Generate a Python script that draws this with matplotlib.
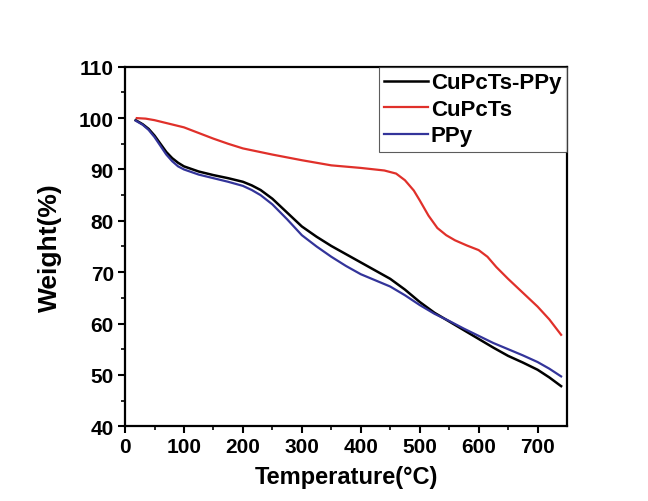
import numpy as np
import matplotlib.pyplot as plt

plt.rcParams['font.family'] = ['Liberation Sans', 'DejaVu Sans']
plt.rcParams['font.weight'] = 'bold'

# DATA
temp_cp = [18, 30, 40, 50, 60, 70, 80, 90, 100, 125, 150, 175, 200, 215, 230, 250, 275, 300,
           325, 350, 375, 400, 425, 450, 475, 500, 525, 550, 575, 600, 625, 650, 675, 700, 720, 740]
w_cupcts_ppy = [99.6, 98.8, 97.9, 96.6, 95.0, 93.4, 92.2, 91.3, 90.6, 89.6, 88.9, 88.3, 87.6, 86.9,
                86.0, 84.3, 81.6, 78.9, 76.9, 75.1, 73.5, 71.9, 70.3, 68.7, 66.6, 64.2, 62.1, 60.4,
                58.7, 57.0, 55.3, 53.7, 52.4, 51.0, 49.5, 47.8]
w_ppy = [99.5, 98.7, 97.7, 96.3, 94.6, 92.9, 91.6, 90.6, 90.0, 89.0, 88.3, 87.6, 86.8, 86.0,
         85.0, 83.2, 80.3, 77.2, 75.0, 73.0, 71.2, 69.6, 68.4, 67.2, 65.5, 63.6, 61.9, 60.5,
         59.0, 57.6, 56.2, 55.0, 53.8, 52.5, 51.2, 49.7]
temp_c = [20, 35, 50, 75, 100, 125, 150, 175, 200, 250, 300, 350, 400, 440, 460, 475, 490, 500,
          515, 530, 545, 560, 580, 600, 615, 630, 650, 675, 700, 720, 740]
w_cupcts = [100.0, 99.9, 99.6, 98.9, 98.2, 97.1, 96.0, 95.0, 94.1, 92.9, 91.8, 90.8, 90.3, 89.8,
            89.2, 87.9, 85.9, 84.0, 81.0, 78.6, 77.2, 76.2, 75.2, 74.3, 73.0, 71.0, 68.7, 66.0,
            63.3, 60.8, 57.8]

fig = plt.figure(figsize=(6.48, 5.02), dpi=100)
ax = fig.add_axes([0.193, 0.149, 0.682, 0.716])

ax.plot(temp_cp, w_cupcts_ppy, color='black', lw=1.8, label='CuPcTs-PPy')
ax.plot(temp_c, w_cupcts, color='#e0302a', lw=1.6, label='CuPcTs')
ax.plot(temp_cp, w_ppy, color='#33349a', lw=1.6, label='PPy')

ax.set_xlim(0, 750)
ax.set_ylim(40, 110)
ax.set_xticks(np.arange(0, 701, 100))
ax.set_yticks(np.arange(40, 111, 10))
ax.set_xticks(np.arange(50, 750, 100), minor=True)
ax.set_yticks(np.arange(45, 110, 10), minor=True)
ax.tick_params(which='major', direction='out', length=5, width=1.5, labelsize=15, pad=3)
ax.tick_params(which='minor', direction='out', length=3, width=1.2)
for s in ax.spines.values():
    s.set_linewidth(1.6)

ax.set_xlabel('Temperature(°C)', fontsize=17, fontweight='bold', labelpad=6)
ax.set_ylabel('Weight(%)', fontsize=19, fontweight='bold', labelpad=12)

leg = ax.legend(loc='upper right', fontsize=16, frameon=True, fancybox=False,
                borderaxespad=0, handlelength=1.95, handletextpad=0.15,
                labelspacing=0.25, borderpad=0.25)
leg.get_frame().set_edgecolor('#333333')
leg.get_frame().set_linewidth(0.8)

fig.savefig('out.png', dpi=100)
